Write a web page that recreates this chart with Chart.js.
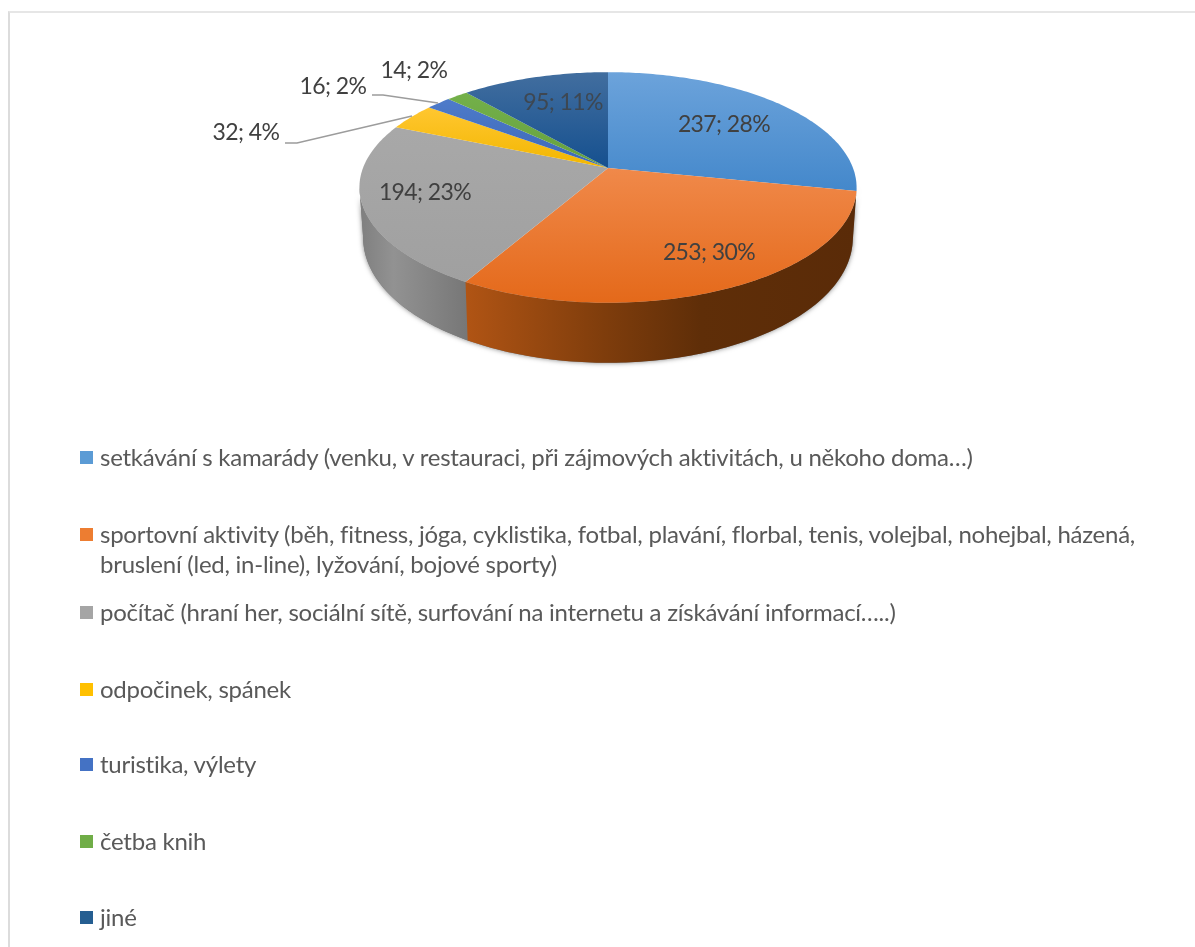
<!DOCTYPE html>
<html lang="cs">
<head>
<meta charset="utf-8">
<title>Volný čas</title>
<script src="https://cdn.jsdelivr.net/npm/chart.js@4"></script>
<style>
    html, body { margin: 0; background: #fff; overflow: hidden; }
    #wrap { position: relative; width: 1195px; height: 947px; }
    #pie { position: absolute; left: 0; top: 0; }
    #frame { position: absolute; left: 8px; top: 11px; width: 1187px; height: 936px;
        border-left: 2px solid #dcdcdc; border-top: 2px solid #e6e6e6; box-sizing: border-box; }
    .row { position: absolute; left: 100px; width: 1060px; color: #595959;
        font: 24px/30px Lato, sans-serif; letter-spacing: -0.25px; }
    .row i { position: absolute; left: -20px; top: 9px; width: 13px; height: 13px; }
</style>
</head>
<body>
<div id="wrap">
    <div id="frame"></div>
    <canvas id="pie" width="1195" height="947"></canvas>
    <div id="legend"></div>
</div>
<script>
const categories = [
    "setkávání s kamarády (venku, v restauraci, při zájmových aktivitách, u někoho doma…)",
    "sportovní aktivity (běh, fitness, jóga, cyklistika, fotbal, plavání, florbal, tenis, volejbal, nohejbal, házená, bruslení (led, in-line), lyžování, bojové sporty)",
    "počítač (hraní her, sociální sítě, surfování na internetu a získávání informací…..)",
    "odpočinek, spánek",
    "turistika, výlety",
    "četba knih",
    "jiné"
];
const values = [237, 253, 194, 32, 16, 14, 95];
const colors = ["#5B9BD5", "#ED7D31", "#A5A5A5", "#FFC000", "#4472C4", "#70AD47", "#255E91"];

// top face gradient per slice: light, dark, and the y range it runs over
const topFaces = [
    ["#6CA3DB", "#4488CB", 72, 190], ["#F0894A", "#E4691A", 168, 303], ["#A8A8A8", "#A0A0A0", 130, 282],
    ["#FFC62E", "#F2B600", 110, 168], ["#4F7CCB", "#3C68B8", 95, 168], ["#74B14A", "#66A03E", 90, 168],
    ["#426E9F", "#15508F", 72, 168]
];
// where the legend rows and the value labels go
const legendTops = [442, 519, 597, 674, 749, 826, 902];
const labelSpots = [[724, 125], [709, 253], [425, 193], [246, 133], [333, 87], [414, 71], [563, 103]];
const leaderLines = [
    [[285, 143], [297, 143], [412, 116]],
    [[372, 95], [383, 95], [438, 103]]
];

// perspective view of the pie
const view = { cx: 608, cy: 168, rx: 245, ry: 112, k: 0.169 };
const depth = { base: 48, extra: 12, shrink: 0.985 };

function topPoint(a) {
    const u = Math.cos(a), v = Math.sin(a);
    const w = 1 - view.k * v;
    return [view.cx + view.rx * u / w, view.cy + view.ry * v / w];
}
function bottomPoint(a) {
    const p = topPoint(a);
    return [view.cx + (p[0] - view.cx) * depth.shrink, p[1] + depth.base + depth.extra * Math.sin(a)];
}
function sampleAngles(from, to) {
    const n = Math.max(2, Math.ceil((to - from) * 60));
    const out = [];
    for (let i = 0; i <= n; i++) out.push(from + (to - from) * i / n);
    return out;
}
function stops(g, list) {
    list.forEach((s) => g.addColorStop(s[0], s[1]));
    return g;
}
function wallPath(ctx, from, to) {
    const angles = sampleAngles(from, to);
    ctx.beginPath();
    angles.forEach((a, n) => {
        const q = topPoint(a);
        if (n === 0) ctx.moveTo(q[0], q[1]); else ctx.lineTo(q[0], q[1]);
    });
    angles.reverse().forEach((a) => {
        const q = bottomPoint(a);
        ctx.lineTo(q[0], q[1]);
    });
    ctx.closePath();
}

const pie3d = {
    id: "pie3d",
    beforeDatasetsDraw(chart) {
        const ctx = chart.ctx;
        const arcs = chart.getDatasetMeta(0).data;
        const sideFrom = Math.asin(view.k), sideTo = Math.PI - sideFrom;

        // soft shadow once round the whole wall
        ctx.save();
        ctx.shadowColor = "rgba(0,0,0,0.5)";
        ctx.shadowBlur = 5;
        ctx.fillStyle = "#777";
        wallPath(ctx, sideFrom, sideTo);
        ctx.fill();
        ctx.restore();

        // side walls, only orange and gray can be seen
        const walls = {
            1: stops(ctx.createLinearGradient(467, 0, 857, 0), [[0, "#B05414"], [0.35, "#7F3D0C"], [0.6, "#5F2E08"], [1, "#5A2B08"]]),
            2: stops(ctx.createLinearGradient(362, 0, 467, 0), [[0, "#808080"], [0.3, "#929292"], [1, "#777777"]])
        };
        [2, 1].forEach((i) => {
            const p = arcs[i].getProps(["startAngle", "endAngle"], true);
            ctx.fillStyle = walls[i];
            wallPath(ctx, Math.max(p.startAngle, sideFrom), Math.min(p.endAngle, sideTo));
            ctx.fill();
        });

        // top face
        arcs.forEach((arc, i) => {
            const p = arc.getProps(["startAngle", "endAngle"], true);
            const f = topFaces[i];
            ctx.fillStyle = stops(ctx.createLinearGradient(0, f[2], 0, f[3]), [[0, f[0]], [1, f[1]]]);
            ctx.beginPath();
            ctx.moveTo(view.cx, view.cy);
            sampleAngles(p.startAngle, p.endAngle).forEach((a) => {
                const q = topPoint(a);
                ctx.lineTo(q[0], q[1]);
            });
            ctx.closePath();
            ctx.fill();
        });
        return false; // the flat arcs are not wanted
    },
    afterDraw(chart) {
        const ctx = chart.ctx;
        const total = values.reduce((a, b) => a + b, 0);

        ctx.strokeStyle = "#9c9c9c";
        ctx.lineWidth = 1.5;
        leaderLines.forEach((line) => {
            ctx.beginPath();
            line.forEach((q, n) => n === 0 ? ctx.moveTo(q[0], q[1]) : ctx.lineTo(q[0], q[1]));
            ctx.stroke();
        });

        ctx.font = "23px Lato, sans-serif";
        ctx.letterSpacing = "-0.6px";
        ctx.textAlign = "center";
        ctx.textBaseline = "middle";
        values.forEach((val, i) => {
            const pct = Math.round(val / total * 100);
            ctx.fillStyle = i === 6 ? "rgba(64,64,64,0.8)" : "#404040";
            ctx.fillText(val + "; " + pct + "%", labelSpots[i][0], labelSpots[i][1]);
        });
    }
};

new Chart(document.getElementById("pie"), {
    type: "pie",
    data: {
        labels: categories,
        datasets: [{ data: values, backgroundColor: colors, borderWidth: 0 }]
    },
    options: {
        responsive: false,
        animation: false,
        plugins: { legend: { display: false }, tooltip: { enabled: false } }
    },
    plugins: [pie3d]
});

const legend = document.getElementById("legend");
categories.forEach((name, i) => {
    const row = document.createElement("div");
    row.className = "row";
    row.style.top = legendTops[i] + "px";
    const box = document.createElement("i");
    box.style.background = colors[i];
    row.append(box, name);
    legend.append(row);
});
</script>
</body>
</html>
